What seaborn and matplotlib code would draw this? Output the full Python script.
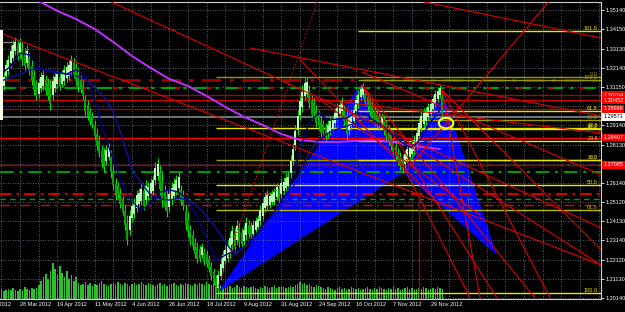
import numpy as np
import matplotlib
matplotlib.use("Agg")
import matplotlib.pyplot as plt
import matplotlib.transforms as mtransforms
from matplotlib.patches import Polygon, Rectangle, Ellipse
import seaborn as sns

sns.set_theme(style="dark")
plt.rcParams['font.family'] = ['Liberation Sans', 'DejaVu Sans']

# ---------------- data ----------------
FIRST_BAR = 7
highs = [1.3175,1.3149,1.3191,1.3254,1.3280,1.3332,1.3358,1.3373,1.3358,1.3368,
         1.3347,1.3316,1.3332,1.3295,1.3254,1.3202,1.3149,1.3160,1.3191,1.3202,
         1.3175,1.3160,1.3149,1.3175,1.3191,1.3202,1.3186,1.3202,1.3228,1.3243,
         1.3254,1.3280,1.3264,1.3238,1.3212,1.3175,1.3149,1.3071,1.3045,1.3004,
         1.2983,1.2941,1.2899,1.2863,1.2811,1.2795,1.2811,1.2821,1.2785,1.2707,
         1.2639,1.2618,1.2587,1.2550,1.2498,1.2446,1.2472,1.2524,1.2535,1.2577,
         1.2587,1.2613,1.2603,1.2629,1.2618,1.2639,1.2655,1.2722,1.2743,1.2707,
         1.2670,1.2603,1.2577,1.2587,1.2618,1.2639,1.2655,1.2670,1.2603,1.2577,
         1.2498,1.2462,1.2394,1.2368,1.2327,1.2306,1.2290,1.2301,1.2275,1.2264,
         1.2238,1.2202,1.2170,1.2134,1.2160,1.2222,1.2264,1.2290,1.2316,1.2358,
         1.2394,1.2379,1.2420,1.2410,1.2379,1.2394,1.2436,1.2420,1.2410,1.2420,
         1.2436,1.2446,1.2498,1.2535,1.2566,1.2577,1.2566,1.2577,1.2587,1.2613,
         1.2603,1.2639,1.2644,1.2665,1.2670,1.2759,1.2821,1.2915,1.2993,1.3071,
         1.3123,1.3160,1.3165,1.3123,1.3071,1.3056,1.3019,1.2993,1.2957,1.2941,
         1.2925,1.2941,1.2957,1.2967,1.3004,1.3030,1.3045,1.3061,1.3019,1.2993,
         1.2983,1.2993,1.3019,1.3071,1.3097,1.3123,1.3134,1.3097,1.3082,1.3061,
         1.3045,1.3019,1.3004,1.2983,1.2978,1.2967,1.2941,1.2915,1.2889,1.2847,
         1.2827,1.2795,1.2774,1.2759,1.2785,1.2811,1.2821,1.2837,1.2863,1.2905,
         1.2952,1.2993,1.3004,1.3009,1.3030,1.3045,1.3071,1.3097,1.3113,1.3123,
         1.3097]
lows = [1.3087,1.3071,1.3097,1.3149,1.3175,1.3212,1.3243,1.3280,1.3254,1.3264,
        1.3228,1.3202,1.3212,1.3175,1.3123,1.3071,1.3045,1.3056,1.3087,1.3097,
        1.3071,1.3045,1.2993,1.3045,1.3087,1.3108,1.3097,1.3113,1.3123,1.3139,
        1.3149,1.3175,1.3160,1.3123,1.3087,1.3082,1.3045,1.2967,1.2941,1.2915,
        1.2899,1.2837,1.2785,1.2748,1.2691,1.2670,1.2707,1.2733,1.2639,1.2577,
        1.2524,1.2535,1.2483,1.2446,1.2368,1.2290,1.2342,1.2410,1.2431,1.2462,
        1.2483,1.2498,1.2472,1.2498,1.2524,1.2540,1.2550,1.2603,1.2629,1.2550,
        1.2488,1.2472,1.2436,1.2462,1.2498,1.2524,1.2550,1.2566,1.2498,1.2472,
        1.2368,1.2332,1.2290,1.2264,1.2222,1.2196,1.2202,1.2222,1.2186,1.2175,
        1.2150,1.2108,1.2082,1.2056,1.2045,1.2108,1.2150,1.2186,1.2202,1.2222,
        1.2264,1.2254,1.2290,1.2280,1.2275,1.2290,1.2316,1.2327,1.2316,1.2327,
        1.2353,1.2368,1.2394,1.2420,1.2462,1.2472,1.2483,1.2498,1.2498,1.2524,
        1.2514,1.2535,1.2550,1.2566,1.2577,1.2639,1.2707,1.2785,1.2863,1.2941,
        1.2983,1.3045,1.3056,1.3004,1.2941,1.2952,1.2905,1.2889,1.2853,1.2863,
        1.2837,1.2847,1.2863,1.2879,1.2905,1.2931,1.2952,1.2967,1.2915,1.2837,
        1.2863,1.2889,1.2915,1.2967,1.3004,1.3045,1.3056,1.3019,1.2993,1.2967,
        1.2941,1.2915,1.2899,1.2889,1.2899,1.2863,1.2837,1.2811,1.2785,1.2759,
        1.2733,1.2707,1.2681,1.2665,1.2691,1.2717,1.2733,1.2743,1.2759,1.2785,
        1.2837,1.2879,1.2899,1.2915,1.2941,1.2957,1.2983,1.3009,1.3035,1.3056,
        1.2941]
volumes = [9,10,8,9,10,9,11,9,8,10, 9,12,10,9,11,10,11,14,18,22,
           25,20,28,36,30,24,33,26,22,28, 20,24,18,22,16,14,15,17,14,16,
           13,15,14,16,18,15,14,13,15,16, 14,17,15,14,16,15,13,15,16,14,
           15,17,15,14,16,15,14,13,15,16, 14,15,13,14,15,16,14,13,15,14,
           16,15,14,13,15,14,16,15,14,17, 15,14,16,13,12,14,13,11,12,13,
           11,12,14,12,11,13,12,11,12,13, 11,10,12,11,13,12,11,12,14,11,
           12,13,12,11,12,13,12,14,15,17, 15,16,14,15,13,12,14,13,12,11,
           10,12,11,10,9,11,12,10,11,9, 10,12,11,10,11,9,10,11,12,10,
           9,11,10,12,11,10,9,11,10,12, 10,11,9,10,11,12,10,11,9,10,
           11,10,12,11,9,10,11,10,12,11, 10]

ma_idx = list(range(8, 197, 4))
ma_fast = [1.3181,1.3222,1.3290,1.3280,1.3212,1.3196,1.3186,1.3181,1.3202,1.3175,
           1.3045,1.2873,1.2733,1.2603,1.2514,1.2472,1.2509,1.2566,1.2577,1.2566,
           1.2524,1.2436,1.2327,1.2207,1.2238,1.2259,1.2280,1.2327,1.2394,1.2446,
           1.2514,1.2603,1.2785,1.2931,1.2978,1.2941,1.2946,1.2952,1.2978,1.2972,
           1.2936,1.2905,1.2858,1.2821,1.2795,1.2847,1.2931,1.2993]
ma_slow = [1.3144,1.3165,1.3181,1.3202,1.3212,1.3202,1.3191,1.3181,1.3170,1.3155,
           1.3113,1.3061,1.2983,1.2847,1.2681,1.2613,1.2550,1.2530,1.2524,1.2535,
           1.2524,1.2493,1.2441,1.2379,1.2306,1.2238,1.2280,1.2316,1.2368,1.2431,
           1.2488,1.2566,1.2670,1.2774,1.2837,1.2873,1.2894,1.2910,1.2925,1.2941,
           1.2925,1.2905,1.2873,1.2837,1.2811,1.2821,1.2837,1.2858]
ma_long_idx = [16,24,32,40,48,56,64,72,80,88,96,104,112,120,128,136,144,152,160,168,176,184,192,196]
ma_long = [1.3608,1.3561,1.3509,1.3467,1.3415,1.3347,1.3274,1.3212,1.3155,1.3118,
           1.3066,1.3009,1.2957,1.2915,1.2868,1.2837,1.2827,1.2827,1.2832,1.2837,
           1.2827,1.2806,1.2795,1.2790]

price_ticks = [1.35140,1.34150,1.33130,1.32140,1.31150,1.30140,1.29140,1.28130,
               1.27130,1.26140,1.25120,1.24130,1.23140,1.22120,1.21130,1.20140]
hidden_ticks = [1.30140, 1.27130]
date_idx = list(range(0, 193, 16))
date_labels = ['6 Mar 2012','28 Mar 2012','19 Apr 2012','11 May 2012','4 Jun 2012',
               '26 Jun 2012','18 Jul 2012','9 Aug 2012','31 Aug 2012','24 Sep 2012',
               '16 Oct 2012','7 Nov 2012','29 Nov 2012']

# Fibonacci retracements
fibA_start, fibA_high, fibA_low = 100, 1.3165, 1.2040
fibA_levels = [0.0, 23.6, 38.2, 50.0, 61.8, 100.0]
fibA_colors = ['#9a9a00', '#e6e600', '#9a9a00', '#e6e600', '#b8b800', '#e6e600']
fibB_start, fibB_100, fibB_0 = 161, 1.3149, 1.2733
fibB_levels = [0.0, 23.6, 38.2, 50.0, 61.8, 100.0, 161.8]
fibB_colors = ['#e6e600', '#e6e600', '#e6e600', '#9a9a00', '#e6e600', '#9a9a00', '#e6e600']

# horizontal levels: price, colour, style, width
h_levels = [(1.3149, '#a00000', (0, (7, 3, 1.5, 3)), 2.0),
            (1.3108, '#00a000', (0, (7, 3, 1.5, 3)), 1.6),
            (1.3108, '#c00000', (5, (2, 12)), 1.6),
            (1.30704, '#b00000', '-', 0.9),
            (1.30452, '#d00000', '-', 0.9),
            (1.29999, '#b00000', '-', 0.9),
            (1.29571, '#7f8c8d', '-', 1.2),
            (1.28497, '#ff0000', '-', 1.0),
            (1.27085, '#a00000', '-', 1.0),
            (1.2670, '#00a000', (0, (7, 3, 1.5, 3)), 1.4),
            (1.2558, '#ff0000', (0, (7, 3, 1.5, 3)), 1.2),
            (1.2530, '#00a000', (0, (4, 3)), 1.0),
            (1.2498, '#e00000', (0, (7, 3, 1.5, 3)), 1.0)]

# trend / fan lines (bar index, price)
tl_x0 = [7.4, 53.3, 114.6, 136.0, 162.6, 181.0, 162.6, 162.6, 162.6, 196.9, 196.9, 196.9, 181.0, 136.0, 144.6, 185.3]
tl_y0 = [1.3394, 1.3566, 1.3316, 1.3061, 1.3191, 1.2837, 1.3123, 1.3123, 1.3123, 1.3097, 1.3097, 1.3097, 1.2670, 1.3254, 1.3045, 1.3566]
tl_x1 = [265.0, 265.0, 265.0, 265.0, 265.0, 265.0, 208.9, 220.4, 236.7, 213.2, 243.2, 265.0, 243.2, 196.0, 213.2, 265.0]
tl_y1 = [1.2186, 1.2379, 1.2962, 1.2873, 1.2655, 1.2186, 1.2014, 1.2014, 1.2014, 1.2014, 1.2014, 1.2264, 1.3566, 1.2498, 1.2446, 1.3368]
dotted_x = [100.0, 143.7]
dotted_y = [1.2045, 1.3566]

# harmonic pattern X A B C D
pat_x = [100.9, 161.7, 180.2, 196.9, 220.4]
pat_y = [1.2045, 1.3123, 1.2665, 1.3097, 1.2238]

marker_box = (198.6, 1.2925)
current_price = 1.29571
red_boxes = [1.30704, 1.30452, 1.29999, 1.28497, 1.27085]

FS = 4.0

# ---------------- figure ----------------
fig = plt.figure(figsize=(6.25, 3.12), dpi=100)
fig.patch.set_facecolor('black')
ax = fig.add_axes([0, 13/312, 601/625, 297/312])
ax2 = ax.twinx()
ax2.set_zorder(ax.get_zorder() - 1)
ax.patch.set_visible(False)
ax2.set_facecolor('black')
ax2.set_ylim(0, 297)
ax2.set_yticks([])
for s in ax2.spines.values():
    s.set_visible(False)

XMIN, XMAX = 7.42, 265.0
ax.set_xlim(XMIN, XMAX)
ax.set_ylim(1.20088, 1.35557)

bars = np.arange(FIRST_BAR, FIRST_BAR + len(highs))
hi = np.array(highs); lo = np.array(lows)

# volume
ax2.bar(bars, volumes, width=0.7, color='#2dc02d', linewidth=0)

# grid
grid_kw = dict(color='#6f7f8f', lw=0.6, ls=(0, (1, 2)), zorder=1.5)
for p in price_ticks:
    ax.axhline(p, **grid_kw)
for g in range(8, 266, 8):
    ax.axvline(g, **grid_kw)

# harmonic triangles
ax.add_patch(Polygon([(pat_x[0], pat_y[0]), (pat_x[1], pat_y[1]), (pat_x[2], pat_y[2])],
                     closed=True, facecolor='#0000ff', edgecolor='none', zorder=1))
ax.add_patch(Polygon([(pat_x[2], pat_y[2]), (pat_x[3], pat_y[3]), (pat_x[4], pat_y[4])],
                     closed=True, facecolor='#0000ff', edgecolor='none', zorder=1))

# horizontal levels
for p, c, ls, lw in h_levels:
    ax.axhline(p, color=c, ls=ls, lw=lw, zorder=2)

# fib retracements
for lev, c in zip(fibA_levels, fibA_colors):
    p = fibA_high - lev / 100 * (fibA_high - fibA_low)
    ax.hlines(p, fibA_start, XMAX, color=c, lw=1.0, zorder=2.2)
    ax.text(263.7, p, f"{lev:.1f}", color=c, fontsize=FS, ha='right', va='bottom', zorder=6)
for lev, c in zip(fibB_levels, fibB_colors):
    p = fibB_0 + lev / 100 * (fibB_100 - fibB_0)
    ax.hlines(p, fibB_start, XMAX, color=c, lw=1.0, zorder=2.2)
    ax.text(263.7, p, f"{lev:.1f}", color=c, fontsize=FS, ha='right', va='bottom', zorder=6)

# candles
mid = (hi + lo) / 2
bull = np.r_[True, mid[1:] >= mid[:-1]]
ax.vlines(bars, lo, hi, color='#00e000', lw=0.8, zorder=3)
ax.bar(bars, (hi - lo) * 0.55, bottom=lo + (hi - lo) * 0.2, width=0.9,
       color=np.where(bull, '#b0ffb0', '#00a800'), linewidth=0, zorder=3.1)

# moving averages
sns.lineplot(x=ma_long_idx, y=ma_long, ax=ax, color='#c030ff', lw=1.4, zorder=4, legend=False)
sns.lineplot(x=ma_idx, y=ma_slow, ax=ax, color='#1010a8', lw=1.0, zorder=4, legend=False)
sns.lineplot(x=ma_idx, y=ma_fast, ax=ax, color='#000088', lw=1.0, zorder=4, legend=False)

# trend / fan lines
for x0, y0, x1, y1 in zip(tl_x0, tl_y0, tl_x1, tl_y1):
    ax.plot([x0, x1], [y0, y1], color='#e00000', lw=0.8, zorder=5)
ax.plot(dotted_x, dotted_y, color='#e00000', lw=0.9, ls=(0, (1, 1.5)), zorder=5)
ax.vlines(187.0, 1.2009, 1.2577, color='#a00000', lw=1.0, zorder=5)

# yellow marker
ax.add_patch(Ellipse(marker_box, 6.2, 0.0055, facecolor='none', edgecolor='#ffff00', lw=1.5, zorder=6))

# left-edge label strip and short gray line
ax.add_patch(Rectangle((XMIN, 1.2941), 1.3, 0.0469, facecolor='#fffff0', edgecolor='none', zorder=6))
ax.hlines(1.3347, XMIN, 13.8, color='#808080', lw=1.0, zorder=2)

# axes styling
ax.yaxis.tick_right()
ax.set_yticks(price_ticks)
ax.set_yticklabels(['' if p in hidden_ticks else f"{p:.5f}" for p in price_ticks])
ax.tick_params(axis='y', colors='white', labelsize=FS, length=2, width=0.6, pad=1.5, right=True)
ax.set_xticks([])
ax.set_xlabel(''); ax.set_ylabel('')
for name, s in ax.spines.items():
    s.set_visible(name in ('right', 'top', 'bottom'))
    s.set_color('#d0d0d0')
    s.set_linewidth(0.8)

trans = mtransforms.blended_transform_factory(ax.transData, ax.transAxes)
for i, lab in zip(date_idx, date_labels):
    ax.text(i, -0.01, lab, transform=trans, ha='left', va='top', color='white',
            fontsize=FS, clip_on=False)

ytrans = mtransforms.blended_transform_factory(ax.transAxes, ax.transData)
for p in red_boxes:
    ax.text(1.004, p, f"{p:.5f}", transform=ytrans, ha='left', va='center', color='white',
            fontsize=FS, clip_on=False, zorder=10,
            bbox=dict(facecolor='#ff0000', edgecolor='none', pad=1.0))
ax.text(1.004, current_price, f"{current_price:.5f}", transform=ytrans, ha='left', va='center',
        color='black', fontsize=FS, clip_on=False, zorder=10,
        bbox=dict(facecolor='white', edgecolor='none', pad=1.0))

fig.savefig('out.png', dpi=100, facecolor='black')
